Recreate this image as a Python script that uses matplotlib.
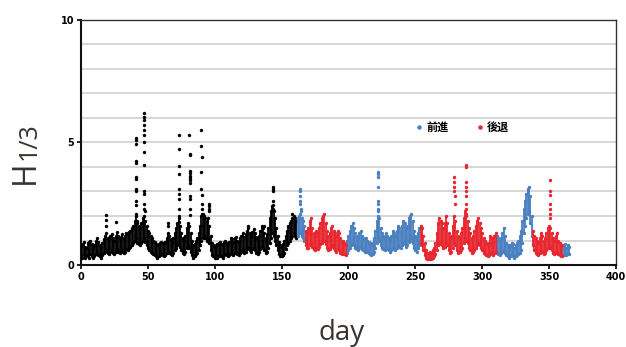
import numpy as np
import matplotlib
matplotlib.use("Agg")
import matplotlib.pyplot as plt
from matplotlib.ticker import MultipleLocator
from matplotlib.lines import Line2D

plt.rcParams['font.family'] = ['DejaVu Sans']

# ---------------- data ----------------
days = np.arange(0, 366)

# daily lower envelope of H1/3
h_lo = [
    0.35,0.30,0.40,0.30,0.35,0.40,0.30,0.45,0.35,0.30,
    0.35,0.45,0.50,0.40,0.35,0.30,0.40,0.50,0.55,0.60,
    0.50,0.45,0.55,0.60,0.50,0.45,0.55,0.65,0.55,0.50,
    0.55,0.60,0.50,0.55,0.65,0.60,0.70,0.75,0.80,0.90,
    1.00,1.10,0.90,0.85,0.80,0.90,1.00,1.10,0.95,0.80,
    0.70,0.60,0.55,0.50,0.45,0.40,0.35,0.30,0.35,0.40,
    0.45,0.40,0.35,0.40,0.50,0.55,0.50,0.45,0.40,0.50,
    0.60,0.70,0.80,0.90,0.75,0.60,0.50,0.45,0.55,0.70,
    0.80,0.70,0.55,0.40,0.30,0.35,0.45,0.50,0.60,0.80,
    1.00,1.10,1.20,1.10,1.00,1.10,0.90,0.60,0.40,0.35,
    0.30,0.35,0.30,0.35,0.40,0.35,0.30,0.40,0.45,0.40,
    0.35,0.40,0.50,0.45,0.40,0.50,0.55,0.45,0.40,0.50,
    0.55,0.60,0.50,0.55,0.65,0.70,0.60,0.55,0.65,0.70,
    0.60,0.50,0.45,0.55,0.65,0.75,0.70,0.60,0.50,0.55,
    0.70,0.90,1.10,1.30,1.20,1.00,0.80,0.60,0.45,0.35,
    0.35,0.40,0.50,0.65,0.80,0.90,1.00,1.10,1.20,1.30,
    1.20,1.10,1.20,1.30,1.30,1.20,1.10,1.00,0.80,0.70,
    0.70,0.80,0.90,0.75,0.65,0.60,0.70,0.65,0.75,0.85,
    0.90,1.00,1.00,0.85,0.70,0.60,0.65,0.75,0.80,0.70,
    0.60,0.55,0.65,0.60,0.50,0.45,0.50,0.45,0.40,0.50,
    0.60,0.70,0.80,0.85,0.80,0.70,0.65,0.60,0.70,0.75,
    0.65,0.60,0.55,0.60,0.55,0.50,0.45,0.40,0.45,0.55,
    0.70,0.90,1.10,1.00,0.80,0.70,0.65,0.60,0.70,0.65,
    0.60,0.55,0.60,0.70,0.65,0.60,0.70,0.80,0.75,0.70,
    0.80,0.90,0.85,0.75,0.80,0.95,1.00,1.10,0.90,0.70,
    0.60,0.55,0.70,0.80,0.90,0.80,0.60,0.40,0.30,0.25,
    0.25,0.30,0.25,0.30,0.35,0.45,0.60,0.80,0.90,0.85,
    0.80,0.70,0.75,0.90,0.80,0.60,0.50,0.55,0.70,0.90,
    0.80,0.60,0.50,0.55,0.60,0.70,0.90,1.10,1.00,0.90,
    0.70,0.60,0.50,0.55,0.60,0.70,0.80,0.90,0.80,0.70,
    0.60,0.50,0.45,0.40,0.35,0.40,0.50,0.45,0.40,0.50,
    0.55,0.50,0.45,0.40,0.50,0.55,0.60,0.50,0.40,0.35,
    0.30,0.35,0.40,0.35,0.30,0.35,0.40,0.45,0.50,0.60,
    0.90,1.30,1.60,1.90,2.10,2.20,1.70,1.20,0.80,0.60,
    0.50,0.45,0.40,0.50,0.60,0.55,0.45,0.50,0.60,0.70,
    0.80,0.70,0.60,0.50,0.45,0.50,0.55,0.45,0.40,0.35,
    0.35,0.40,0.45,0.40,0.50,0.45,
]

# daily upper envelope of H1/3
h_hi = [
    0.85,0.80,0.95,0.75,0.70,0.90,0.95,1.00,0.85,0.75,
    0.80,1.00,1.10,0.95,0.80,0.75,0.90,1.05,1.20,1.30,
    1.10,1.05,1.20,1.25,1.10,1.00,1.20,1.35,1.20,1.10,
    1.15,1.25,1.10,1.20,1.30,1.25,1.35,1.40,1.50,1.60,
    1.80,2.00,1.70,1.60,1.50,1.70,1.90,2.00,1.80,1.60,
    1.40,1.30,1.20,1.10,1.00,0.95,0.85,0.80,0.85,0.90,
    0.95,0.90,0.85,0.95,1.10,1.30,1.20,1.05,0.95,1.10,
    1.30,1.50,1.70,1.90,1.60,1.30,1.10,1.00,1.20,1.50,
    1.70,1.60,1.30,1.00,0.80,0.85,1.00,1.10,1.30,1.60,
    2.00,2.10,2.00,1.90,1.80,1.90,1.60,1.20,0.90,0.80,
    0.75,0.80,0.85,0.90,0.95,0.85,0.80,0.95,1.00,0.90,
    0.85,0.95,1.10,1.05,0.95,1.10,1.15,1.00,0.95,1.10,
    1.20,1.30,1.15,1.25,1.40,1.50,1.30,1.20,1.35,1.45,
    1.30,1.15,1.05,1.20,1.40,1.60,1.50,1.30,1.10,1.25,
    1.50,1.90,2.20,2.40,2.20,1.90,1.50,1.20,0.95,0.80,
    0.75,0.85,1.00,1.20,1.40,1.60,1.70,1.80,1.90,2.00,
    1.90,1.80,1.90,2.00,2.10,1.90,1.80,1.60,1.40,1.30,
    1.50,1.80,1.90,1.50,1.30,1.20,1.40,1.30,1.50,1.70,
    1.90,2.00,2.10,1.70,1.40,1.20,1.30,1.50,1.60,1.40,
    1.30,1.20,1.40,1.30,1.10,1.00,1.00,0.90,0.80,1.00,
    1.20,1.40,1.60,1.70,1.50,1.30,1.20,1.15,1.30,1.40,
    1.20,1.10,1.05,1.10,1.00,0.95,0.90,0.80,0.90,1.10,
    1.40,1.80,2.00,1.90,1.50,1.30,1.20,1.10,1.30,1.20,
    1.10,1.05,1.20,1.40,1.30,1.20,1.40,1.60,1.50,1.40,
    1.60,1.80,1.70,1.50,1.60,1.90,2.00,2.10,1.80,1.40,
    1.20,1.10,1.30,1.50,1.60,1.50,1.20,0.90,0.60,0.50,
    0.50,0.55,0.50,0.60,0.70,0.90,1.30,1.70,1.90,1.80,
    1.70,1.50,1.70,2.00,1.70,1.30,1.10,1.20,1.60,2.00,
    1.80,1.40,1.20,1.10,1.30,1.50,1.90,2.20,2.00,1.80,
    1.50,1.30,1.10,1.20,1.40,1.60,1.80,1.90,1.70,1.50,
    1.30,1.10,1.00,0.90,0.85,0.90,1.20,1.10,0.95,1.20,
    1.30,1.20,1.10,1.00,1.10,1.30,1.50,1.20,0.90,0.80,
    0.75,0.80,0.90,0.85,0.70,0.80,0.90,1.00,1.20,1.40,
    1.80,2.30,2.60,2.90,3.10,3.20,2.80,2.00,1.40,1.20,
    1.10,1.00,0.90,1.10,1.30,1.20,1.00,1.10,1.30,1.50,
    1.60,1.50,1.30,1.10,1.00,1.20,1.30,1.00,0.90,0.80,
    0.80,0.75,0.85,0.70,0.80,0.75,
]

# isolated high readings during storms (day, H1/3)
spike_day = [
    18.5, 18.5, 18.7, 26.5,
    41, 41, 41, 41.3, 41.3, 41, 41, 41.2, 41.2, 41, 41, 41, 41.5,
    47, 47, 47, 47, 47, 47, 47, 47.2, 47.2, 47, 47.3, 47, 47.2, 47.5,
    65, 65.3,
    73, 73, 73.3, 73, 73, 73.2, 73, 73, 73.2, 73.4,
    81, 81.5, 81.5, 81.6, 81.6, 81.6, 81.6, 81.6, 81.6, 81.2, 81.4, 81.2, 81.3,
    90, 90, 90.2, 90, 90, 90.2, 90.3, 90.3, 90.4,
    95.5, 95.5, 95.5, 95.6,
    125, 137,
    143.5, 143.5, 143.6, 143.6, 143.7, 143.7,
    158,
    164, 164, 164, 164.1, 164.1, 164.2, 164.2,
    222, 222, 222, 222.2, 222.3, 222.3, 222.4, 222.4,
    279, 279, 279.2, 279.2, 279.3, 279.3,
    287.5, 287.5, 287.6, 287.6, 287.7, 287.7, 287.8, 287.8, 287.9,
    350.5, 350.5, 350.6, 350.6, 350.7, 350.7, 350.8,
]
spike_val = [
    2.05, 1.85, 1.60, 1.75,
    5.20, 5.10, 4.95, 4.25, 4.15, 3.60, 3.50, 3.10, 3.00, 2.60, 2.45, 2.10, 1.80,
    6.20, 6.05, 5.90, 5.70, 5.50, 5.30, 5.00, 4.60, 4.10, 3.00, 2.90, 2.50, 2.30, 2.20,
    1.70, 1.60,
    5.30, 4.75, 4.05, 3.70, 3.10, 2.90, 2.70, 2.30, 2.00, 1.75,
    5.30, 4.55, 4.50, 3.85, 3.75, 3.65, 3.55, 3.45, 3.35, 2.80, 2.70, 2.30, 2.05,
    5.50, 4.85, 4.40, 3.80, 3.10, 2.85, 2.50, 2.30, 2.10,
    2.50, 2.40, 2.30, 2.20,
    1.60, 1.60,
    3.20, 3.10, 3.00, 2.60, 2.45, 2.30,
    2.10,
    3.10, 3.00, 2.80, 2.60, 2.50, 2.30, 2.20,
    3.80, 3.70, 3.60, 3.20, 2.60, 2.50, 2.30, 2.20,
    3.60, 3.40, 3.20, 3.00, 2.80, 2.50,
    4.10, 4.00, 3.40, 3.20, 3.00, 2.80, 2.50, 2.30, 2.10,
    3.45, 3.00, 2.85, 2.50, 2.30, 2.10, 1.90,
]

# periods: start day and direction ('' = unclassified, 前進 / 後退)
period_start = [0, 162, 168, 199, 254, 311, 338, 361]
period_kind = ['', '前進', '後退', '前進', '後退', '前進', '後退', '前進']

legend_labels = ['前進', '後退']
x_ticks = [0, 50, 100, 150, 200, 250, 300, 350, 400]
y_ticks = [0, 5, 10]

colors = {'': '#000000', '前進': '#4a7fc0', '後退': '#e8262f'}

# ---------------- plot ----------------
def kind_of(d):
    i = np.searchsorted(period_start, d, side='right') - 1
    return period_kind[i]

fig = plt.figure(figsize=(6.26, 3.47), dpi=100)
ax = fig.add_axes([0.1294, 0.2363, 0.8546, 0.7061])

lo = np.array(h_lo)
hi = np.array(h_hi)
day_kind = np.array([kind_of(d) for d in days])
sd = np.array(spike_day)
sv = np.array(spike_val)
spike_kind = np.array([kind_of(d) for d in sd])

for k, c in colors.items():
    m = day_kind == k
    ax.vlines(days[m], lo[m], hi[m], color=c, lw=1.3, zorder=3)
    ax.scatter(days[m], lo[m], s=6, color=c, lw=0, zorder=3)
    ax.scatter(days[m], hi[m], s=6, color=c, lw=0, zorder=3)
    ms = spike_kind == k
    ax.scatter(sd[ms], sv[ms], s=6, color=c, lw=0, zorder=3)

ax.set_xlim(0, 400)
ax.set_ylim(0, 10)
ax.set_xticks(x_ticks)
ax.set_yticks(y_ticks)
ax.yaxis.set_minor_locator(MultipleLocator(1))
ax.grid(True, which='both', axis='y', color='#d6d6d6', lw=1.4, zorder=0)
ax.set_axisbelow(True)
ax.tick_params(axis='both', which='major', labelsize=7, length=3, width=1.2,
               direction='out', pad=2)
ax.tick_params(axis='y', which='minor', length=0)
for lab in ax.get_xticklabels() + ax.get_yticklabels():
    lab.set_fontweight('bold')
for s in ['left', 'bottom']:
    ax.spines[s].set_linewidth(1.5)
    ax.spines[s].set_color('#111111')
for s in ['top', 'right']:
    ax.spines[s].set_linewidth(1.0)
    ax.spines[s].set_color('#333333')

handles = [Line2D([], [], ls='', marker='o', ms=2.2, color=colors[k]) for k in legend_labels]
leg = ax.legend(handles, legend_labels, loc='center left', bbox_to_anchor=(0.607, 0.56),
                ncol=2, frameon=False, handlelength=0.6, handletextpad=0.35,
                columnspacing=2.5, prop={'family': 'Noto Sans CJK JP', 'weight': 'bold', 'size': 8})

# y-axis label H with subscript 1/3
fig.text(25 / 626, 1 - 172 / 347, 'H', rotation=90, ha='center', va='center',
         fontsize=23, color='#3a3330', family='Open Sans')
fig.text(29 / 626, 1 - 141 / 347, '1/3', rotation=90, ha='center', va='center',
         fontsize=18, color='#3a3330', family='Open Sans')
fig.text(342 / 626, 1 - 340 / 347, 'day', ha='center', va='baseline',
         fontsize=20, color='#3a3330', family='Open Sans')

fig.savefig('out.png', dpi=100)
